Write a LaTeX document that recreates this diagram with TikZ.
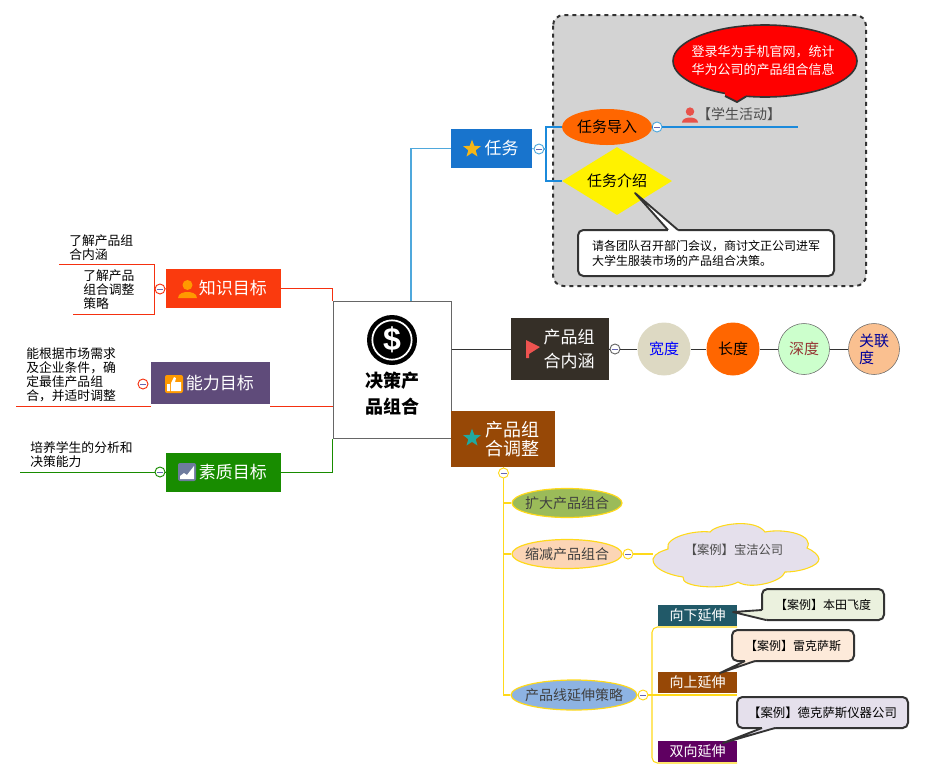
\documentclass[tikz,border=0pt]{standalone}
\usepackage{fontspec}
\setmainfont{Noto Sans CJK SC}
\newfontfamily\coinfont{Liberation Sans}
\usetikzlibrary{shapes.geometric}

\definecolor{inkdark}{HTML}{333333}
\definecolor{skyline}{HTML}{4FA8DC}
\definecolor{skybold}{HTML}{1B8ADB}
\definecolor{redline}{HTML}{F5300F}
\definecolor{greenline}{HTML}{188C00}
\definecolor{goldline}{HTML}{FFD91A}
\definecolor{rootline}{HTML}{666666}
\definecolor{taskblue}{HTML}{1874CD}
\definecolor{starmark}{HTML}{F5B617}
\definecolor{heat}{HTML}{FF6600}
\definecolor{innerbox}{HTML}{352F27}
\definecolor{flagred}{HTML}{EE5350}
\definecolor{paleolive}{HTML}{DDD9C3}
\definecolor{palegreen}{HTML}{CCFFCC}
\definecolor{darkrose}{HTML}{953735}
\definecolor{palepeach}{HTML}{FAC090}
\definecolor{rust}{HTML}{974806}
\definecolor{teal2}{HTML}{1FA9A0}
\definecolor{oliveoval}{HTML}{9BBB59}
\definecolor{peachoval}{HTML}{FCD5B5}
\definecolor{blueoval}{HTML}{8DB3E2}
\definecolor{lilac}{HTML}{E5E0EC}
\definecolor{seablue}{HTML}{215968}
\definecolor{plum}{HTML}{5F0061}
\definecolor{palemoss}{HTML}{EBF1DE}
\definecolor{palecream}{HTML}{FDEADA}
\definecolor{knowred}{HTML}{FA3A0E}
\definecolor{skillviolet}{HTML}{5F4B7A}
\definecolor{chartgray}{HTML}{6E7B9E}
\definecolor{thumb}{HTML}{FF9900}
\definecolor{personred}{HTML}{E8524A}
\definecolor{framefill}{HTML}{D3D3D3}

\newcommand{\tailnote}[5]{% fill, tip, two rim points, and the rim shifted inside
  \fill[#1] (#2) -- (#3) -- #5 -- (#4) -- cycle;
  \draw[notetail] (#3) -- (#2) -- (#4);
}

\tikzset{
  size/.style 2 args={minimum width=#1*0.75pt,minimum height=#2*0.75pt,inner sep=0pt},
  fs/.style 2 args={font=\fontsize{\the\dimexpr#1pt*3/4\relax}{\the\dimexpr#2pt*3/4\relax}\selectfont},
  goalbox/.style={rectangle,text=white,align=center},
  notebox/.style={draw=inkdark,line width=1.5pt,rounded corners=4pt,text=black,align=left},
  notetail/.style={draw=inkdark,line width=1.4pt,line join=round},
  fold/.style={circle,draw=#1,fill=white,line width=0.7pt,minimum size=7.5pt,inner sep=0pt,
    path picture={\draw[black!50!blue!60,line width=0.6pt]
      ([xshift=1.5pt]path picture bounding box.west) -- ([xshift=-1.5pt]path picture bounding box.east);}},
  round/.style={circle,minimum size=53*0.75pt,inner sep=0pt,fs={15}{17},align=left},
  oval/.style={ellipse,draw=goldline,line width=0.9pt,fs={14}{16},text=black!75},
  sub/.style={rectangle,size={79}{21},text=white,fs={14}{16}},
  memo/.style={anchor=west,align=left,fs={12.8}{14},inner sep=0pt},
  pics/person/.style={code={
    \fill[#1] (0,-4) circle[radius=5];
    \fill[#1] (-9.5,9) .. controls (-9.5,4) and (-3,3) .. (0,3)
              .. controls (3,3) and (9.5,4) .. (9.5,9) -- cycle;}},
}

\begin{document}
\begin{tikzpicture}[x=0.75pt,y=-0.75pt]
  \useasboundingbox (0,0) rectangle (925,779);

  \draw[inkdark,fill=framefill,line width=1.5pt,dashed,rounded corners=8pt] (553,15) rectangle (866,286);

  % centre and the three right hand branches
  \node[rectangle,draw=rootline,line width=0.75pt,fill=white,size={118}{137}] (root) at (392,369.5) {};
  \node[circle,fill=black,minimum size=37.5pt,inner sep=0pt] (coin) at (392,340) {};
  \node[circle,draw=white,line width=1.3pt,minimum size=29.5pt,inner sep=0pt,text=white,font=\coinfont\fontsize{24}{24}\selectfont\bfseries] (dollar) at (392,340) {\$};
  \node[align=center,font=\fontsize{13.5}{19.5}\selectfont\bfseries] (rootname) at (392,394) {决策产\\品组合};

  \node[goalbox,fill=taskblue,size={81}{39},fs={17}{20}] (task) at (491.5,148.5) {\hspace*{15pt}任务};
  \node[star,star points=5,star point ratio=2.4,fill=starmark,minimum size=14pt,inner sep=0pt] (taskstar) at (472,149) {};
  \node[fold=skyline] (foldT) at (539,149) {};
  \node[ellipse,fill=heat,size={90}{36},inner xsep=-4pt,fs={15}{17}] (lead) at (607,127) {任务导入};
  \node[diamond,fill=yellow,aspect=1.6,size={110}{68},fs={15}{17}] (intro) at (617,181) {任务介绍};
  \node[fold=skyline] (foldL) at (657,127) {};
  \coordinate (leadend) at (798,127);
  \pic at (690,115) [scale=0.85] {person=personred};
  \node[fs={14}{16},text=black!70] (active) at (739,114) {【学生活动】};

  \node[ellipse,draw=inkdark,fill=red,line width=1.2pt,size={184}{72},inner xsep=-15pt,fs={13}{18},text=white,align=left] (bubble) at (765,61) {\hspace*{-3pt}登录华为手机官网，统计\\\hspace*{-3pt}华为公司的产品组合信息};
  \tailnote{red}{737,102}{725,96}{746,96.5}{(725,92) -- (746,92)}
  \node[notebox,fill=white,size={256}{46},fs={12}{15}] (brief) at (706,253) {请各团队召开部门会议，商讨文正公司进军\\大学生服装市场的产品组合决策。};
  \tailnote{white}{635,193}{668,230}{678,230}{(668,233) -- (678,233)}

  \node[goalbox,fill=innerbox,size={98}{62},fs={17}{24}] (inner) at (560,349) {\hspace*{13.5pt}产品组\\\hspace*{13.5pt}合内涵};
  \fill[flagred] (526,340) -- (540,347) -- (529,354) -- (529,358) -- (526,358) -- cycle;
  \node[fold=rootline] (foldI) at (615,349) {};
  \node[round,fill=paleolive,text=blue] (wide) at (664,349) {宽度};
  \node[round,fill=heat,text=black] (length) at (733,349) {长度};
  \node[round,draw=rootline,fill=palegreen,minimum size=51*0.75pt,text=darkrose] (deep) at (804,349) {深度};
  \node[round,draw=rootline,fill=palepeach,minimum size=51*0.75pt,text=blue!60!black] (link) at (874,349) {关联\\度};
  \path[inkdark,line width=0.75pt]
    (inner.west -| root.east) edge (inner.west)
    (inner) edge (foldI)
    (foldI) edge (wide)
    (wide)  edge (length)
    (length) edge (deep)
    (deep)  edge (link);

  \node[goalbox,fill=rust,size={104}{56},fs={18}{19}] (adjust) at (503,439) {\hspace*{13.5pt}产品组\\\hspace*{13.5pt}合调整};
  \node[star,star points=5,star point ratio=2.4,fill=teal2,minimum size=14pt,inner sep=0pt] (adjstar) at (472,438) {};
  \node[fold=goldline] (foldA) at (503.5,473) {};
  \coordinate (trunk) at (503.5,695);
  \node[oval,fill=oliveoval,size={110}{29},inner xsep=-6pt] (expand) at (567,503) {扩大产品组合};
  \node[oval,fill=peachoval,size={110}{29},inner xsep=-6pt] (shrink) at (567,554) {缩减产品组合};
  \node[oval,fill=blueoval,size={126}{30},inner xsep=-6pt] (stretch) at (574,695) {产品线延伸策略};
  \node[fold=goldline] (foldS) at (628,554) {};
  \node[fold=goldline] (foldE) at (643,695) {};

  \draw[goldline,line width=0.8pt,fill=lilac] (653,559) .. controls (655,553) and (662,551) .. (668,549)
    .. controls (664,537) and (695,530) .. (710,532)
    .. controls (716,524) and (755,518) .. (765,532)
    .. controls (785,528) and (815,535) .. (807,548)
    .. controls (812,550) and (819,555) .. (819,559)
    .. controls (819,566) and (800,572) .. (785,572)
    .. controls (782,582) and (750,590) .. (738,582)
    .. controls (725,590) and (680,588) .. (683,577)
    .. controls (668,575) and (652,568) .. (653,559) -- cycle;
  \coordinate (cloudleft) at (653,554);
  \node[fs={12.3}{14},text=black!70] (case1) at (734,550) {【案例】宝洁公司};

  \node[sub,fill=seablue] (down) at (697.5,615.5) {向下延伸};
  \node[sub,fill=rust] (up) at (697.5,682.5) {向上延伸};
  \node[sub,fill=plum] (both) at (697.5,751.5) {双向延伸};
  \node[notebox,fill=palemoss,size={122}{31},fs={12}{14},align=center] (case2) at (823,604.5) {【案例】本田飞度};
  \tailnote{palemoss}{733,612}{762,610}{766,620}{(766,610) -- (768,615)}
  \node[notebox,fill=palecream,size={122}{31},fs={12}{14},align=center] (case3) at (793,645.5) {【案例】雷克萨斯};
  \tailnote{palecream}{720,673}{745,661}{755,661}{(745,657) -- (755,657)}
  \node[notebox,fill=lilac,size={171}{31},fs={12.4}{14},align=center] (case4) at (822.5,712.5) {【案例】德克萨斯仪器公司};
  \tailnote{lilac}{723,743}{762,728}{775,728}{(762,724) -- (775,724)}

  % connectors of the task branch
  \draw[skyline,line width=0.8pt] (411,301) |- (task.west);
  \draw[skyline,line width=0.8pt] (task.east) -- (foldT);
  \draw[skybold,line width=1.5pt] (lead.west) -- ++(-16,0) |- (intro.west);
  \draw[skyline,line width=0.8pt] (foldT) -- (546,149);
  \draw[skybold,line width=1.5pt] (foldL) -- (leadend);
  \draw[skybold,line width=0.8pt] (lead.east) -- (foldL);

  % connectors of the adjusting branch
  \draw[goldline,line width=0.8pt] (adjust.south -| foldA) -- (foldA);
  \draw[goldline,line width=0.8pt] (foldA) -- (trunk) -- (stretch.west);
  \path[goldline,line width=0.8pt]
    (foldA |- expand.west) edge (expand.west)
    (foldA |- shrink.west) edge (shrink.west)
    (shrink) edge (foldS)
    (foldS) edge (cloudleft)
    (stretch) edge (foldE);
  \draw[goldline,line width=0.8pt,rounded corners=4pt] (737,627) -| (652,763) -- ++(85,0);
  \draw[goldline,line width=0.8pt] (foldE) -- (652,695) -- (737,695);

  % left hand branches
  \node[goalbox,fill=knowred,size={115}{39},fs={17}{20}] (know) at (223.5,288.5) {\hspace*{14pt}知识目标};
  \pic at (187.5,289) {person=thumb};
  \node[goalbox,fill=skillviolet,size={119}{42},fs={17}{20}] (skill) at (210.5,383) {\hspace*{14pt}能力目标};
  \fill[thumb,rounded corners=1.5pt] (165,375) rectangle (183,393);
  \fill[white] (167,384) rectangle (170,391) (171,383) -- (174,377) -- (176,378) -- (175,382) -- (181,382) -- (181,391) -- (171,391) -- cycle;
  \node[goalbox,fill=greenline,size={115}{39},fs={17}{20}] (value) at (223.5,472) {\hspace*{14pt}素质目标};
  \fill[chartgray,rounded corners=1.5pt] (178,463) rectangle (196,481);
  \fill[white] (180,479) -- (180,476) -- (184,473) -- (187,475) -- (194,466) -- (194,479) -- cycle;

  \node[fold=redline] (foldK) at (160,289) {};
  \node[fold=redline] (foldQ) at (143,384) {};
  \node[fold=greenline] (foldV) at (160,472) {};

  \node[memo] (know1) at (69,248) {了解产品组\\合内涵};
  \node[memo] (know2) at (83,290) {了解产品\\组合调整\\策略};
  \node[memo] (skill1) at (26,375) {能根据市场需求\\及企业条件，确\\定最佳产品组\\合，并适时调整};
  \node[memo] (value1) at (30,455) {培养学生的分析和\\决策能力};
  \coordinate (knowtop) at (59,264);
  \coordinate (knowlow) at (73,314);
  \coordinate (skillend) at (16,406);
  \coordinate (valueend) at (20,472);

  \draw[redline,line width=0.75pt] (know.east) -| (root.north west);
  \draw[redline,line width=0.75pt] (know.west) -- (foldK) -- (154,289);
  \draw[redline,line width=0.75pt] (knowtop) -- (154,264) -- (154,314) -- (knowlow);
  \draw[redline,line width=0.75pt] (270,406) -- (root.west |- skillend);
  \draw[redline,line width=0.75pt] (151,406) -- (skillend);
  \draw[greenline,line width=0.75pt] (value.east) -| (root.south west);
  \draw[greenline,line width=0.75pt] (value.west) -- (foldV) -- (valueend);
\end{tikzpicture}
\end{document}
